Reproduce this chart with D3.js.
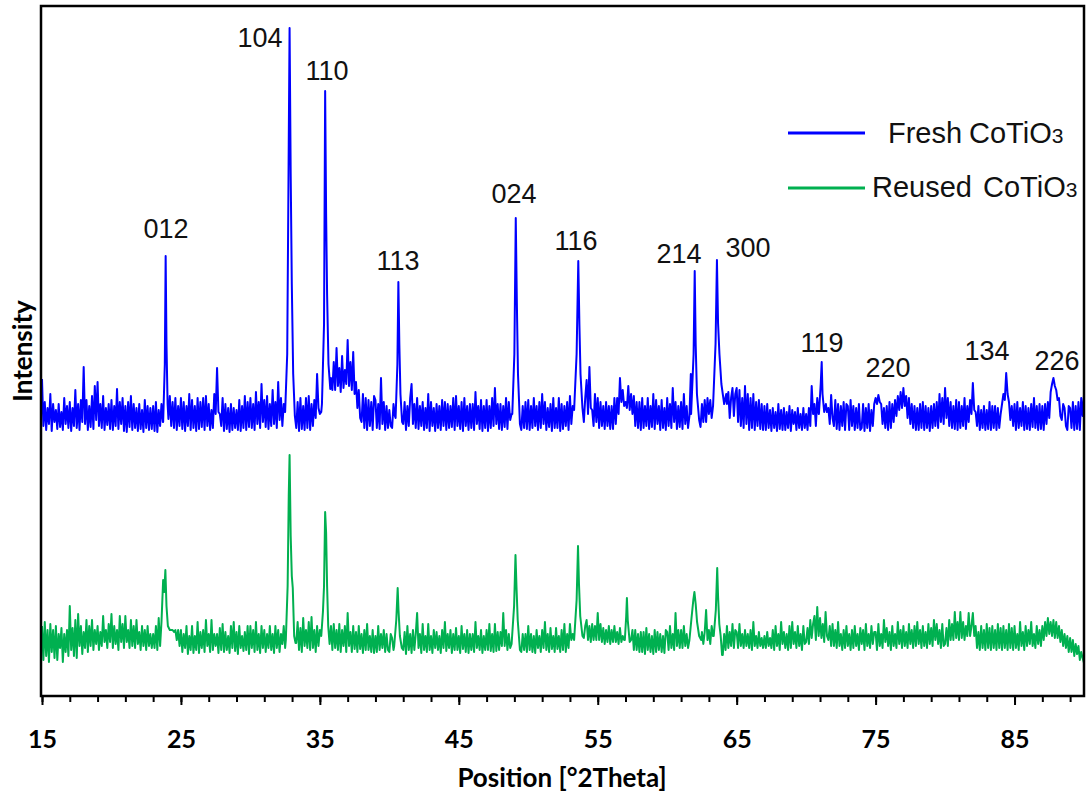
<!DOCTYPE html>
<html>
<head>
<meta charset="utf-8">
<script src="https://cdn.jsdelivr.net/npm/d3@7"></script>
<style>
  body { margin: 0; background: #fff; }
</style>
</head>
<body>
<div id="xrd"></div>
<script>
// XRD - fresh vs reused CoTiO3

// background intensity (a.u.), one value every 0.1 deg from 15 to 90
const thetaStart = 15, thetaStep = 0.1;

const freshBackground = [
  95,48,72,44,66,50,80,43,70,52, 64,45,70,47,62,44,76,50,68,46, 72,43,66,48,84,46,70,44,74,52, 107,50,74,44,68,47,78,45,88,54, 92,48,70,46,78,44,66,49,70,45,
  74,44,68,48,85,45,72,50,76,43, 68,42,72,47,78,44,70,46,66,43, 70,45,64,42,74,46,68,44,66,45, 68,43,72,42,64,48,70,52,60,56, 60,58,78,48,72,46,76,44,68,48,
  76,45,72,43,68,48,80,44,74,46, 68,43,76,45,72,47,76,44,78,48, 70,44,64,46,80,60,106,62,60,48, 76,43,70,45,66,42,70,44,66,46, 64,44,74,43,68,46,78,44,72,47,
  76,46,70,44,82,50,72,46,90,52, 74,47,78,45,70,48,84,50,72,46, 92,54,76,48,70,60,80,70,90,70, 70,60,50,46,72,43,76,45,68,44, 76,46,78,44,70,48,74,56,100,66,
  60,62,75,100,150,120,110,100,96,84, 112,84,126,88,106,82,118,86,104,90, 134,88,112,84,122,80,92,66,84,56, 52,80,46,76,44,74,48,72,44,78, 74,46,70,45,96,50,72,44,68,46,
  64,48,46,70,58,80,120,150,100,80, 50,72,44,68,48,76,90,50,70,46, 76,45,68,48,72,44,66,46,80,43, 72,48,66,43,70,46,68,44,74,48, 72,44,70,46,68,47,76,44,78,48,
  68,45,72,43,76,48,68,44,70,46, 70,44,82,50,68,45,74,43,68,46, 74,43,68,46,76,48,86,50,70,45, 70,44,68,47,76,45,72,54,60,100, 120,150,120,80,60,44,68,46,72,45,
  74,44,68,46,76,48,68,44,72,46, 80,50,72,44,66,47,70,43,76,46, 66,46,76,43,70,45,68,48,72,44, 78,50,68,64,100,150,120,100,66,60, 52,76,94,60,107,66,64,48,80,52,
  76,46,72,48,68,45,72,48,68,45, 68,45,76,50,76,60,96,72,84,68, 72,66,88,64,80,60,78,48,72,46, 72,44,76,46,68,48,76,45,68,47, 80,45,74,50,68,44,74,46,66,44,
  76,48,70,46,86,52,72,45,68,47, 72,45,80,50,68,46,58,100,150,120, 150,80,60,54,47,70,52,74,52,76, 60,74,56,100,120,150,120,100,90,80, 70,70,80,70,82,56,76,86,58,80,
  86,52,84,48,76,46,88,50,80,44, 76,46,80,44,72,48,74,45,70,44, 68,44,70,46,64,43,66,46,62,43, 70,45,64,44,66,44,62,46,68,43, 64,50,62,44,66,46,60,44,66,46,
  60,44,66,48,88,60,70,48,76,60, 80,90,112,80,70,62,66,50,79,56, 48,74,45,70,44,68,48,72,44,70, 68,44,74,48,68,44,66,46,70,44, 46,70,43,66,46,70,43,64,48,70,
  76,70,79,72,70,50,66,46,68,44, 72,46,70,52,74,58,78,64,82,66, 86,68,78,56,76,50,70,46,68,44, 66,44,70,46,72,44,68,46,66,43, 68,46,70,48,72,46,80,52,76,50,
  86,56,76,48,72,46,68,45,74,44, 72,46,68,48,76,45,68,52,74,60, 91,64,62,48,68,44,64,46,68,44, 64,45,72,44,68,46,68,44,66,46, 60,70,80,74,101,80,72,54,68,48,
  70,44,72,46,66,48,72,44,68,45, 66,44,70,47,76,46,68,44,70,45, 68,44,70,50,72,56,82,90,96,88, 84,74,76,58,54,70,66,48,44,68, 66,46,72,44,68,45,72,44,76,58,79
];

const reusedBackground = [
  70,36,74,40,66,34,72,44,66,38, 70,36,62,48,68,34,62,44,66,40, 90,46,68,40,76,38,82,50,70,42, 64,48,76,44,70,50,76,46,66,52, 70,46,64,50,80,54,66,48,72,54,
  82,48,70,52,66,46,80,54,72,48, 80,54,66,48,76,50,70,48,76,52, 64,46,70,50,66,46,70,50,62,48, 62,48,70,46,78,60,80,100,110,120, 100,90,70,66,66,64,66,56,66,50,
  66,44,62,48,70,42,60,46,70,43, 60,46,74,43,64,48,66,44,76,50, 62,44,76,46,62,50,62,43,68,46, 72,44,64,46,60,43,70,48,74,45, 64,42,70,48,60,45,64,46,70,42,
  70,48,66,44,74,46,62,43,70,48, 66,44,62,48,70,46,62,43,70,48, 66,44,62,52,70,48,180,200,241,160, 120,108,90,53,74,46,68,44,78,50, 66,48,74,46,79,48,66,44,70,50,
  66,80,84,120,184,160,110,80,70,46, 72,48,66,46,72,44,66,50,70,44, 83,50,64,44,70,47,64,44,70,47, 62,43,66,46,72,46,60,44,66,43, 60,44,70,46,62,48,66,44,62,46,
  44,62,58,46,70,80,100,90,60,48, 46,64,42,70,46,62,43,66,46,62, 83,48,62,43,72,46,60,44,72,46, 60,43,66,48,64,46,60,43,66,48, 74,45,62,48,66,43,62,46,68,46,
  60,43,70,47,62,44,66,43,62,46, 62,44,74,48,60,46,66,43,60,46, 66,46,72,45,62,44,72,45,64,46, 64,50,83,50,66,46,62,48,60,90, 120,141,110,76,50,44,62,46,62,44,
  70,46,62,44,60,43,66,48,60,44, 66,48,74,46,62,44,68,47,60,44, 68,47,60,44,66,46,72,44,62,48, 72,56,62,56,96,150,112,80,60,60, 58,70,76,56,70,54,72,56,70,56,
  83,56,72,54,68,52,66,54,70,52, 66,54,70,54,64,52,68,54,60,56, 80,98,76,54,56,66,46,66,46,62, 44,64,44,64,42,68,46,62,44,60, 42,66,44,64,46,62,44,60,43,66,
  64,46,70,48,62,46,83,50,66,48, 66,48,70,50,62,48,78,96,104,92, 104,92,74,60,56,64,52,64,86,56, 66,52,70,60,86,128,100,72,60,41, 41,62,46,70,48,64,50,72,48,66,
  64,48,72,50,62,48,66,50,62,48, 66,46,74,50,60,48,64,50,58,48, 60,48,64,50,58,48,66,46,70,50, 62,46,74,52,64,48,62,46,70,48, 74,52,64,48,70,50,62,46,70,52,
  54,68,52,76,58,72,80,56,89,60, 78,58,72,54,84,60,56,70,50,72, 50,66,48,74,50,62,46,66,48,70, 50,62,46,66,48,70,50,62,46,68, 52,66,46,72,50,62,48,70,52,64,
  64,46,72,50,62,48,76,54,68,50, 64,46,70,50,62,48,74,52,66,48, 70,50,64,48,72,52,66,48,70,50, 74,52,66,48,70,50,64,48,72,52, 68,50,76,56,72,52,66,48,72,50,
  52,68,50,76,56,72,56,84,58,74, 56,84,58,74,56,70,60,83,60,70, 83,60,70,48,64,46,70,48,66,46, 72,48,68,46,70,48,66,46,72,48, 68,46,70,48,66,46,72,48,68,46,
  70,48,62,46,74,50,64,46,70,50, 66,52,74,50,62,48,70,52,66,50, 70,56,74,60,78,62,74,60,76,58, 74,58,70,54,66,50,62,48,60,44, 58,44,56,40,52,42,50,36,44,38,33
];

// peak profiles: [2theta, intensity]
const freshPeaks = [
  [[23.72,52],[23.84,110],[23.9,218],[23.96,130],[24.04,70],[24.1,55]],
  [[32.5,62],[32.65,120],[32.76,330],[32.82,446],[32.9,300],[32.98,190],[33.08,100],[33.2,58]],
  [[35.15,70],[35.3,150],[35.38,383],[35.45,260],[35.52,180],[35.62,110],[35.75,85]],
  [[40.45,56],[40.58,110],[40.65,192],[40.72,130],[40.8,80],[40.92,52]],
  [[48.85,60],[49.0,120],[49.1,256],[49.18,170],[49.26,100],[49.4,50]],
  [[53.3,64],[53.48,120],[53.6,213],[53.68,150],[53.76,100],[53.9,66]],
  [[61.72,60],[61.9,120],[61.98,203],[62.05,130],[62.14,80],[62.3,54]],
  [[63.3,68],[63.48,130],[63.58,214],[63.66,151],[63.76,120],[63.9,90],[64.1,70],[64.25,80]],
  [[70.92,60],[71.05,90],[71.12,112],[71.18,80],[71.3,62],[71.42,70]]
];

const reusedPeaks = [
  [[23.5,50],[23.6,74],[23.72,116],[23.8,104],[23.88,126],[23.96,90],[24.06,70],[24.2,66]],
  [[32.55,56],[32.68,110],[32.76,200],[32.82,241],[32.9,160],[32.98,120],[33.05,108],[33.15,60],[33.25,53]],
  [[35.1,60],[35.22,84],[35.3,110],[35.38,184],[35.45,163],[35.52,110],[35.6,70],[35.7,52]],
  [[40.35,50],[40.5,76],[40.6,108],[40.66,86],[40.76,60],[40.9,48]],
  [[48.8,52],[48.98,90],[49.08,141],[49.15,110],[49.24,76],[49.4,46]],
  [[53.3,56],[53.48,96],[53.58,150],[53.65,112],[53.74,80],[53.9,60]],
  [[56.95,56],[57.05,80],[57.1,98],[57.16,76],[57.3,54]],
  [[61.6,56],[61.75,78],[61.88,96],[61.96,104],[62.05,92],[62.15,74],[62.3,60],[62.45,56]],
  [[63.35,60],[63.5,86],[63.6,128],[63.66,100],[63.75,72],[63.85,60],[63.95,41]]
];

// Miller indices over the fresh pattern
const hklLabels = ["012","104","110","113","024","116","214","300","119","220","134","226"];
const hklTheta  = [23.93,30.69,35.51,40.63,48.98,53.44,60.85,65.82,71.15,75.9,83.02,88.06];
const hklLevel  = [236,427,394,204,271,224,211,217,122,97,114,104];

const seriesNames = ["Fresh", "Reused"];
const xMajorTicks = [15,25,35,45,55,65,75,85];
const xMinorTicks = d3.range(15, 90, 2);

// layout
const width = 1089, height = 797;
const plotLeft = 42, plotRight = 1084, plotTop = 6, plotBottom = 696;
const freshOffset = 222;
const colors = {Fresh: "#0000ff", Reused: "#00b050"};

const svg = d3.select("#xrd")
  .append("svg")
    .attr("width", width)
    .attr("height", height)
    .style("font-family", "'Liberation Sans', Arial, sans-serif");

const x = d3.scaleLinear().domain([15, 90]).range([plotLeft, plotRight]);
const y = d3.scaleLinear().domain([0, 690]).range([plotBottom, plotTop]);

// merge background grid with the peak profiles
function buildSeries(bg, peaks) {
  let pts = bg.map((v, i) => [thetaStart + i * thetaStep, v]);
  peaks.forEach(pk => {
    const lo = pk[0][0] - 1e-6, hi = pk[pk.length - 1][0] + 1e-6;
    pts = pts.filter(p => p[0] < lo || p[0] > hi).concat(pk);
  });
  return pts.sort((a, b) => a[0] - b[0]);
}

const fresh = buildSeries(freshBackground, freshPeaks);
const reused = buildSeries(reusedBackground, reusedPeaks);

svg.append("clipPath").attr("id", "plot")
  .append("rect")
    .attr("x", plotLeft).attr("y", plotTop)
    .attr("width", plotRight - plotLeft).attr("height", plotBottom - plotTop);

const line = offset => d3.line()
  .x(d => x(d[0]))
  .y(d => y(d[1] + offset));

svg.append("path")
  .datum(reused)
    .attr("clip-path", "url(#plot)")
    .attr("fill", "none")
    .attr("stroke", colors.Reused)
    .attr("stroke-width", 2)
    .attr("stroke-linejoin", "round")
    .attr("d", line(0));

svg.append("path")
  .datum(fresh)
    .attr("clip-path", "url(#plot)")
    .attr("fill", "none")
    .attr("stroke", colors.Fresh)
    .attr("stroke-width", 2)
    .attr("stroke-linejoin", "round")
    .attr("d", line(freshOffset));

// hkl labels
svg.selectAll("hkl")
  .data(hklLabels)
  .join("text")
    .attr("x", (d, i) => x(hklTheta[i]))
    .attr("y", (d, i) => y(hklLevel[i] + freshOffset))
    .attr("text-anchor", "middle")
    .attr("font-size", 27)
    .attr("fill", "#111")
    .text(d => d);

// frame
svg.append("rect")
  .attr("x", plotLeft - 1).attr("y", plotTop)
  .attr("width", plotRight - plotLeft + 1).attr("height", plotBottom - plotTop)
  .attr("fill", "none")
  .attr("stroke", "#000")
  .attr("stroke-width", 2.5);

// x axis: minor ticks every 2 deg, labelled ticks every 10
const axisFont = "Lato, 'Open Sans', sans-serif";
const minor = svg.append("g")
  .attr("transform", `translate(0,${plotBottom})`)
  .call(d3.axisBottom(x).tickValues(xMinorTicks).tickSize(6).tickFormat(""));
const major = svg.append("g")
  .attr("transform", `translate(0,${plotBottom})`)
  .call(d3.axisBottom(x).tickValues(xMajorTicks).tickSize(9).tickPadding(25).tickFormat(d3.format("d")));
[minor, major].forEach(g => {
  g.select(".domain").remove();
  g.selectAll(".tick line").attr("stroke", "#000").attr("stroke-width", 2);
});
major.selectAll(".tick text")
  .attr("font-family", axisFont)
  .attr("font-weight", "bold")
  .attr("font-size", 25)
  .attr("fill", "#000");

svg.append("text")
  .attr("x", 562)
  .attr("y", 787)
  .attr("text-anchor", "middle")
  .attr("font-family", axisFont)
  .attr("font-weight", "bold")
  .attr("font-size", 26)
  .text("Position [°2Theta]");

svg.append("text")
  .attr("transform", "translate(32,351) rotate(-90)")
  .attr("text-anchor", "middle")
  .attr("font-family", axisFont)
  .attr("font-weight", "bold")
  .attr("font-size", 26)
  .text("Intensity");

// legend
const legend = svg.append("g");
const legendRows = [
  {name: seriesNames[0], ly: 133, tx: 888, cx: 969, by: 143},
  {name: seriesNames[1], ly: 188, tx: 872, cx: 983, by: 197}
];
legendRows.forEach(r => {
  legend.append("line")
    .attr("x1", 788).attr("x2", 865)
    .attr("y1", r.ly).attr("y2", r.ly)
    .attr("stroke", colors[r.name])
    .attr("stroke-width", 3);
  const t = legend.append("text")
    .attr("y", r.by)
    .attr("font-size", 29)
    .attr("fill", "#111");
  t.append("tspan").attr("x", r.tx).text(r.name);
  t.append("tspan").attr("x", r.cx).text("CoTiO");
  t.append("tspan").attr("font-size", 21).text("3");
});
</script>
</body>
</html>
